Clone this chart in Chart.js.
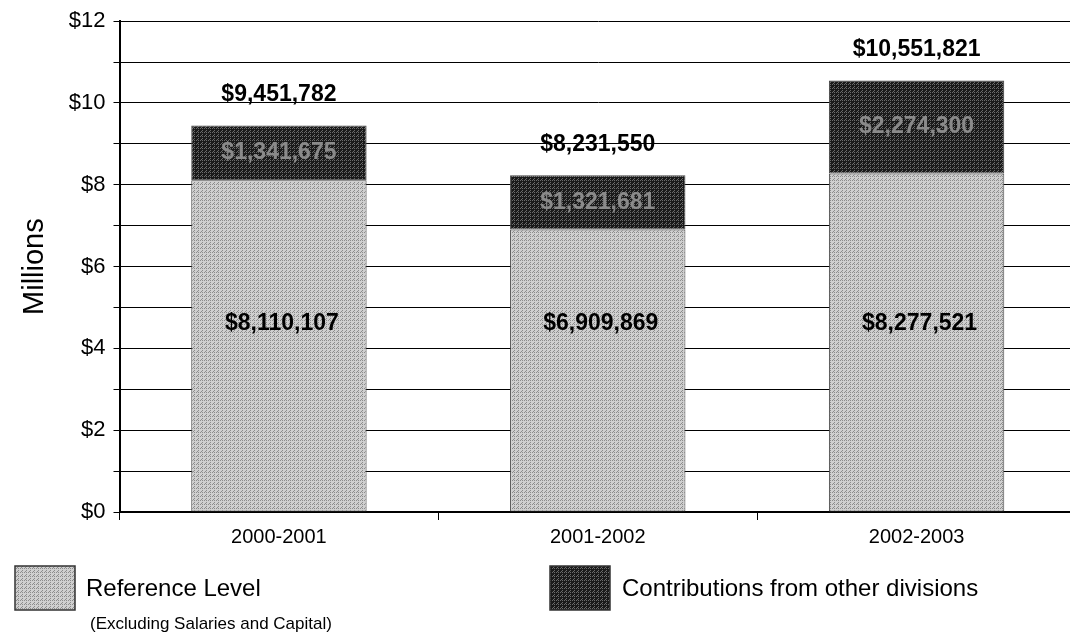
<!DOCTYPE html>
<html>
<head>
<meta charset="utf-8">
<script src="https://cdn.jsdelivr.net/npm/chart.js@4.4.0/dist/chart.umd.min.js"></script>
<style>
  html, body { margin: 0; padding: 0; background: #fff; overflow: hidden; }
  #wrap { width: 1080px; height: 641px; position: relative; }
</style>
</head>
<body>
<div id="wrap"><canvas id="chart"></canvas></div>
<script>
// data
const years = ["2000-2001", "2001-2002", "2002-2003"];
const referenceLevel = [8110107, 6909869, 8277521];
const contributions = [1341675, 1321681, 2274300];
const totals = [9451782, 8231550, 10551821];
const yTicks = [0, 2, 4, 6, 8, 10, 12];

const FONT = "'Liberation Sans', Arial, sans-serif";
const money = v => "$" + Math.round(v).toLocaleString("en-US");

// small dither tile, a bit like the scanned halftone
function dither(light, dark) {
  const c = document.createElement("canvas");
  c.width = 4; c.height = 4;
  const g = c.getContext("2d");
  g.fillStyle = light;
  g.fillRect(0, 0, 4, 4);
  g.fillStyle = dark;
  g.fillRect(0, 0, 1, 1); g.fillRect(2, 2, 1, 1);
  g.fillRect(2, 0, 1, 1); g.fillRect(1, 3, 1, 1);
  return g.createPattern(c, "repeat");
}
const lightFill = dither("#cfcfcf", "#8c8c8c");
const darkFill = dither("#1a1a1a", "#6a6a6a");

const labelPlugin = {
  id: "barLabels",
  afterDatasetsDraw(chart) {
    const ctx = chart.ctx;
    const ref = chart.getDatasetMeta(0).data;
    const con = chart.getDatasetMeta(1).data;
    const y = chart.scales.y;
    ctx.save();
    ctx.textAlign = "center";
    ctx.textBaseline = "middle";
    ctx.font = "bold 23px " + FONT;
    for (let i = 0; i < years.length; i++) {
      ctx.fillStyle = "#000";
      ctx.fillText(money(totals[i]), con[i].x, y.getPixelForValue(totals[i] / 1e6) - 31);
      ctx.fillText(money(referenceLevel[i]), ref[i].x + 3, y.getPixelForValue(4.6));
      ctx.fillStyle = "#8a8a8a";
      const mid = (referenceLevel[i] + totals[i]) / 2e6;
      ctx.fillText(money(contributions[i]), con[i].x, y.getPixelForValue(mid));
    }
    ctx.restore();
  }
};

const legendPlugin = {
  id: "customLegend",
  afterDraw(chart) {
    const ctx = chart.ctx;
    ctx.save();
    ctx.strokeStyle = "#333";
    ctx.lineWidth = 1.5;
    ctx.fillStyle = lightFill;
    ctx.fillRect(15, 566, 60, 44);
    ctx.strokeRect(15, 566, 60, 44);
    ctx.fillStyle = darkFill;
    ctx.fillRect(550, 566, 60, 44);
    ctx.strokeRect(550, 566, 60, 44);
    ctx.fillStyle = "#000";
    ctx.textBaseline = "middle";
    ctx.textAlign = "left";
    ctx.font = "24px " + FONT;
    ctx.fillText("Reference Level", 86, 589);
    ctx.fillText("Contributions from other divisions", 622, 589);
    ctx.font = "17px " + FONT;
    ctx.fillText("(Excluding Salaries and Capital)", 90, 624);
    ctx.restore();
  }
};

new Chart(document.getElementById("chart"), {
  type: "bar",
  data: {
    labels: years,
    datasets: [
      {
        label: "Reference Level",
        data: referenceLevel.map(v => v / 1e6),
        backgroundColor: lightFill,
        borderColor: "#444",
        borderWidth: 1,
        borderSkipped: false,
        barPercentage: 0.55,
        categoryPercentage: 1
      },
      {
        label: "Contributions from other divisions",
        data: contributions.map(v => v / 1e6),
        backgroundColor: darkFill,
        borderColor: "#444",
        borderWidth: 1,
        borderSkipped: false,
        barPercentage: 0.55,
        categoryPercentage: 1
      }
    ]
  },
  options: {
    responsive: true,
    maintainAspectRatio: false,
    animation: false,
    layout: { padding: { left: 10, right: 4, top: 15, bottom: 87 } },
    plugins: {
      legend: { display: false },
      tooltip: { enabled: false }
    },
    scales: {
      x: {
        stacked: true,
        grid: {
          offset: true,
          drawOnChartArea: false,
          tickLength: 8,
          color: "#000"
        },
        border: { color: "#000", width: 2 },
        ticks: {
          color: "#000",
          font: { family: FONT, size: 20 },
          padding: 5
        }
      },
      y: {
        stacked: true,
        min: 0,
        max: 12,
        grid: { color: "#000", lineWidth: 1, tickLength: 6 },
        border: { color: "#000", width: 2 },
        ticks: {
          stepSize: 1,
          color: "#000",
          font: { family: FONT, size: 22 },
          padding: 8,
          callback: v => (yTicks.includes(v) ? "$" + v : "")
        },
        title: {
          display: true,
          text: "Millions",
          color: "#000",
          font: { family: FONT, size: 29 },
          padding: 8
        }
      }
    }
  },
  plugins: [labelPlugin, legendPlugin]
});
</script>
</body>
</html>
